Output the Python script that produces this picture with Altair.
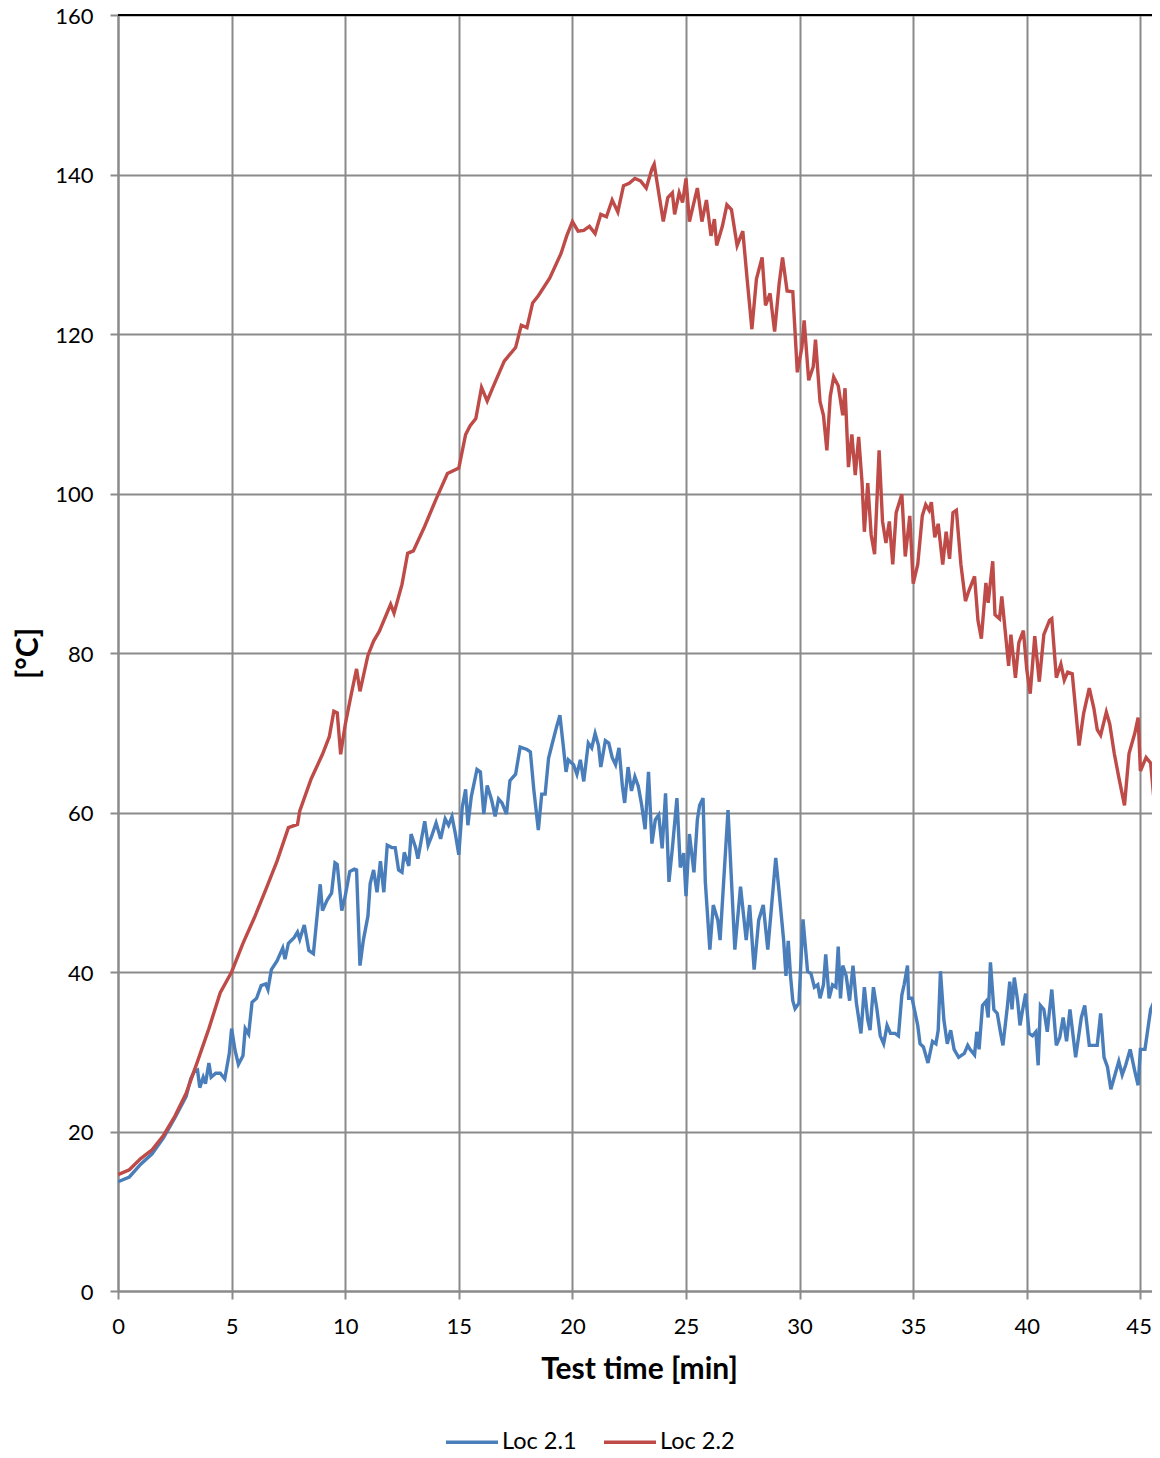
import altair as alt
import pandas as pd

# ---- data ----
red_t = [0, 0.5, 1, 1.5, 2, 2.5, 3, 3.5, 4, 4.5, 5, 5.5, 6, 6.5, 7, 7.5, 7.9, 8, 8.5, 9, 9.3, 9.5, 9.65, 9.8,
         10, 10.25, 10.5, 10.65, 11, 11.25, 11.5, 12, 12.15, 12.5, 12.75, 13, 13.5, 14, 14.5, 15, 15.3, 15.5,
         15.75, 16, 16.25, 16.5, 17, 17.5, 17.75, 18, 18.25, 18.5, 19, 19.5, 19.75, 20, 20.25, 20.5, 20.75,
         21, 21.25, 21.5, 21.75, 22, 22.25, 22.5, 22.75, 23, 23.25, 23.5, 23.6, 23.75, 24, 24.2, 24.4, 24.5,
         24.7, 24.85, 25, 25.15, 25.35, 25.5, 25.7, 25.9, 26.1, 26.25, 26.35, 26.6, 26.8, 27, 27.25, 27.5,
         27.7, 27.9, 28.1, 28.35, 28.5, 28.7, 28.9, 29.1, 29.25, 29.45, 29.7, 29.9, 30.1, 30.2, 30.4, 30.6,
         30.7, 30.9, 31.05, 31.2, 31.35, 31.5, 31.7, 31.9, 32, 32.15, 32.3, 32.45, 32.6, 32.75, 32.85, 33,
         33.15, 33.3, 33.5, 33.65, 33.8, 33.95, 34.1, 34.25, 34.5, 34.65, 34.85, 35, 35.2, 35.4, 35.55, 35.7,
         35.8, 35.95, 36.1, 36.3, 36.45, 36.6, 36.75, 36.9, 37.1, 37.3, 37.45, 37.7, 37.85, 38.0, 38.2, 38.3,
         38.5, 38.6, 38.8, 38.9, 39.1, 39.2, 39.3, 39.5, 39.65, 39.85, 40.0, 40.15, 40.35, 40.55, 40.75, 41.0,
         41.1, 41.3, 41.5, 41.65, 41.8, 42.0, 42.3, 42.5, 42.75, 42.95, 43.1, 43.25, 43.5, 43.65, 43.85,
         44.05, 44.3, 44.5, 44.75, 44.9, 45.0, 45.25, 45.45, 45.7, 45.9]
red_v = [14.6, 15.2, 16.6, 17.7, 19.5, 21.9, 24.8, 28.8, 32.9, 37.4, 40.0, 43.6, 46.8, 50.3, 53.9, 58.1, 58.5,
         60.2, 64.2, 67.3, 69.5, 72.7, 72.5, 67.3, 71.0, 74.6, 78.0, 75.2, 79.7, 81.5, 82.7, 86.1, 85.0, 88.6,
         92.5, 92.8, 95.9, 99.3, 102.5, 103.2, 107.4, 108.5, 109.4, 113.3, 111.6, 113.3, 116.6, 118.3, 121.1,
         120.8, 123.9, 124.8, 127.0, 130.1, 132.3, 134.1, 132.9, 133.0, 133.5, 132.6, 135.0, 134.7, 136.8,
         135.3, 138.6, 138.9, 139.5, 139.2, 138.3, 140.7, 141.3, 138.6, 134.1, 137.1, 137.7, 135.0, 137.7,
         136.5, 139.5, 134.1, 136.5, 138.3, 134.1, 136.8, 132.3, 134.4, 131.1, 133.5, 136.2, 135.6, 131.1,
         132.9, 126.6, 120.6, 126.9, 129.6, 123.6, 125.1, 120.3, 126.3, 129.6, 125.4, 125.3, 115.2, 118.3,
         121.7, 114.2, 115.9, 119.3, 111.5, 109.8, 105.4, 112.2, 114.6, 113.5, 109.8, 113.2, 103.3, 107.4,
         102.3, 107.1, 101.3, 95.2, 101.3, 94.8, 92.4, 105.4, 96.5, 93.8, 96.5, 91.1, 97.6, 99.9, 92.1, 97.2,
         88.7, 91.1, 97.2, 98.6, 97.9, 98.9, 94.5, 96.2, 91.1, 95.2, 91.8, 97.6, 97.9, 91.1, 86.5, 87.8, 89.6,
         84.1, 81.8, 88.8, 86.3, 91.5, 84.8, 84.3, 87.1, 81.3, 78.4, 82.3, 76.9, 81.3, 82.8, 77.9, 74.9, 82.1,
         76.4, 82.3, 84.1, 84.3, 76.9, 78.6, 76.6, 77.6, 77.4, 68.4, 72.4, 75.6, 73.1, 70.4, 69.7, 72.6, 71.1,
         67.4, 64.4, 60.9, 67.4, 69.9, 71.9, 65.2, 66.9, 66.2, 58.5, 65.4]

blue_t = [0, 0.5, 1, 1.5, 2, 2.5, 3, 3.2, 3.35, 3.5, 3.6, 3.75, 3.85, 4, 4.1, 4.3, 4.5, 4.7, 4.9, 5, 5.15, 5.3,
          5.5, 5.6, 5.75, 5.9, 6.1, 6.3, 6.5, 6.6, 6.75, 7, 7.25, 7.35, 7.5, 7.75, 7.9, 8.0, 8.2, 8.4, 8.6,
          8.8, 8.9, 9.0, 9.2, 9.4, 9.55, 9.65, 9.85, 10, 10.2, 10.4, 10.5, 10.65, 10.8, 11.0, 11.1, 11.25,
          11.4, 11.55, 11.7, 11.85, 12.05, 12.2, 12.35, 12.5, 12.6, 12.8, 12.9, 13.1, 13.2, 13.5, 13.65,
          13.8, 14.0, 14.2, 14.4, 14.55, 14.7, 14.85, 15.0, 15.15, 15.3, 15.4, 15.55, 15.8, 15.95, 16.1,
          16.25, 16.45, 16.6, 16.75, 16.9, 17.1, 17.25, 17.5, 17.7, 18.0, 18.15, 18.3, 18.5, 18.65, 18.8,
          18.95, 19.1, 19.3, 19.45, 19.6, 19.72, 19.82, 20.05, 20.2, 20.35, 20.5, 20.7, 20.85, 21.0, 21.15,
          21.25, 21.45, 21.6, 21.75, 21.9, 22.05, 22.2, 22.3, 22.45, 22.6, 22.75, 22.9, 23.05, 23.2, 23.35,
          23.5, 23.65, 23.8, 23.95, 24.1, 24.25, 24.4, 24.6, 24.75, 24.9, 25.0, 25.15, 25.35, 25.5, 25.6,
          25.75, 25.85, 26.05, 26.2, 26.4, 26.5, 26.85, 27.15, 27.4, 27.65, 27.8, 28.0, 28.2, 28.4, 28.6,
          28.95, 29.1, 29.3, 29.4, 29.5, 29.6, 29.7, 29.8, 29.97, 30.15, 30.35, 30.5, 30.65, 30.8, 30.9,
          31.05, 31.15, 31.3, 31.45, 31.6, 31.7, 31.8, 31.9, 32.05, 32.2, 32.35, 32.5, 32.7, 32.85, 33.0,
          33.1, 33.25, 33.4, 33.55, 33.7, 33.85, 34.0, 34.2, 34.35, 34.5, 34.6, 34.75, 34.8, 34.95, 35.2,
          35.3, 35.45, 35.65, 35.85, 36.0, 36.1, 36.2, 36.35, 36.5, 36.65, 36.8, 37.0, 37.25, 37.4, 37.5,
          37.7, 37.8, 37.9, 38.05, 38.2, 38.3, 38.4, 38.55, 38.7, 38.85, 38.95, 39.15, 39.25, 39.35, 39.45,
          39.6, 39.7, 39.8, 39.95, 40.1, 40.25, 40.4, 40.5, 40.6, 40.75, 40.9, 41.1, 41.3, 41.45, 41.6,
          41.75, 41.9, 42.15, 42.4, 42.55, 42.75, 42.95, 43.1, 43.25, 43.4, 43.55, 43.7, 43.9, 44.05, 44.2,
          44.35, 44.55, 44.75, 44.9, 45.0, 45.2, 45.3, 45.45, 45.6, 45.75, 45.9]
blue_v = [13.7, 14.3, 15.9, 17.2, 19.2, 21.7, 24.4, 26.6, 27.5, 27.7, 25.5, 26.8, 26.0, 28.6, 26.8, 27.3, 27.3,
          26.6, 29.8, 32.9, 30.2, 28.4, 29.5, 32.9, 32.2, 36.2, 36.7, 38.3, 38.5, 37.8, 40.3, 41.4, 43.0,
          41.6, 43.6, 44.3, 45.0, 44.1, 45.9, 42.7, 42.3, 48.1, 51.0, 47.7, 49.0, 49.9, 53.7, 53.5, 47.7,
          49.5, 52.6, 52.9, 52.8, 40.8, 44.0, 47.0, 51.1, 52.8, 50.0, 53.9, 50.0, 55.9, 55.6, 55.6, 52.8,
          52.5, 55.0, 53.3, 57.3, 55.6, 54.2, 58.9, 55.9, 57.0, 58.7, 56.7, 59.2, 58.4, 59.5, 57.3, 54.7,
          60.6, 62.9, 58.4, 62.0, 65.4, 65.1, 59.8, 63.4, 61.5, 59.5, 61.7, 61.2, 59.8, 64.0, 64.8, 68.2,
          67.9, 67.6, 62.9, 57.8, 62.3, 62.3, 66.8, 68.5, 70.7, 72.2, 68.3, 65.1, 66.6, 66.0, 64.8, 66.6,
          63.9, 68.7, 68.1, 69.9, 68.4, 65.7, 69.0, 68.7, 66.9, 66.0, 68.1, 63.3, 61.2, 65.7, 62.7, 64.5,
          63.3, 60.9, 57.9, 65.1, 56.1, 59.1, 59.7, 55.5, 62.4, 51.3, 55.5, 61.8, 53.1, 54.9, 49.5, 57.3,
          52.5, 59.1, 60.9, 61.8, 51.3, 42.8, 48.4, 46.5, 44.0, 60.3, 42.8, 50.7, 44.0, 48.4, 40.3, 46.5,
          48.4, 42.8, 54.3, 50.0, 43.9, 39.5, 43.9, 39.5, 36.4, 35.4, 36.1, 46.6, 40.1, 39.8, 38.1, 38.4,
          36.7, 38.4, 42.2, 36.7, 38.4, 38.1, 43.2, 36.7, 40.8, 39.5, 36.4, 40.8, 36.1, 32.3, 38.1, 34.0,
          32.7, 38.1, 35.4, 32.0, 31.0, 33.3, 32.3, 32.3, 32.0, 37.1, 38.4, 40.8, 36.7, 36.7, 33.3, 31.0,
          30.6, 28.6, 31.3, 31.0, 32.7, 40.1, 34.0, 31.0, 32.7, 30.3, 29.3, 29.8, 30.8, 30.3, 29.6, 32.5,
          30.3, 35.8, 36.3, 34.3, 41.2, 35.3, 34.8, 32.3, 30.8, 35.8, 38.8, 35.3, 39.3, 36.3, 33.3, 35.0,
          37.3, 32.3, 32.0, 32.5, 28.3, 35.8, 35.3, 32.5, 37.8, 30.8, 31.8, 34.3, 31.3, 35.3, 29.3, 34.3,
          35.8, 30.8, 30.8, 30.8, 34.8, 29.3, 28.1, 25.3, 27.3, 28.8, 27.1, 28.3, 30.3, 27.6, 25.8, 30.3,
          30.3, 32.3, 35.3, 36.3, 35.0, 33.8]

series_names = ["Loc 2.1", "Loc 2.2"]
series_colors = ["#4A7EBB", "#BE4B48"]
x_ticks = [0, 5, 10, 15, 20, 25, 30, 35, 40, 45]
y_ticks = [0, 20, 40, 60, 80, 100, 120, 140, 160]

df = pd.concat([
    pd.DataFrame({"t": blue_t, "v": blue_v, "s": series_names[0]}),
    pd.DataFrame({"t": red_t, "v": red_v, "s": series_names[1]}),
], ignore_index=True)

W, H = 1034, 1276
PX_PER_MIN = 22.72
x_max = W / PX_PER_MIN
FONT = "Lato"
GRID = "#8A8A8A"

lines = alt.Chart(df).mark_line(strokeWidth=3.4, clip=True).encode(
    x=alt.X("t:Q", scale=alt.Scale(domain=[0, x_max], nice=False, zero=False),
            axis=alt.Axis(values=x_ticks, title="Test time [min]", labelPadding=17,
                          labelAlign=alt.ExprRef("datum.value == 45 ? 'right' : 'center'"),
                          labelOffset=alt.ExprRef("datum.value == 45 ? 11 : 0"),
                          titleX=521, titleY=78, titleBaseline="middle", titleAlign="center")),
    y=alt.Y("v:Q", scale=alt.Scale(domain=[0, 160], nice=False),
            axis=alt.Axis(values=y_ticks, title="[°C]", labelPadding=17, labelOffset=1, titleAngle=270,
                          titleX=-90, titleY=H / 2, titleBaseline="middle", titleAlign="center")),
    color=alt.Color("s:N", scale=alt.Scale(domain=series_names, range=series_colors),
                    legend=alt.Legend(title=None, orient="none", legendX=326, legendY=1399,
                                      direction="horizontal", symbolType="stroke", symbolSize=2704,
                                      symbolStrokeWidth=3.5, labelFont=FONT, labelFontSize=23.5,
                                      labelColor="black", labelOffset=2, columnPadding=20, padding=0)),
)

top = alt.Chart(pd.DataFrame({"a": [0]})).mark_rule(color="black", strokeWidth=2).encode(
    x=alt.value(0), x2=alt.value(W), y=alt.value(0))

chart = alt.layer(lines, top).properties(
    width=W, height=H,
    autosize=alt.AutoSizeParams(type="none"),
    padding={"left": 110, "top": 7, "right": 0, "bottom": 159},
).configure_view(stroke=None).configure_axis(
    domainColor=GRID, domainWidth=2, gridColor=GRID, gridWidth=2,
    tickColor=GRID, tickWidth=2, tickSize=8,
    labelFont=FONT, labelFontSize=22, labelColor="black",
    titleFont=FONT, titleFontSize=30, titleFontWeight="bold", titleColor="black",
)

chart.save("out.html", embed_options={"renderer": "svg", "actions": False})
